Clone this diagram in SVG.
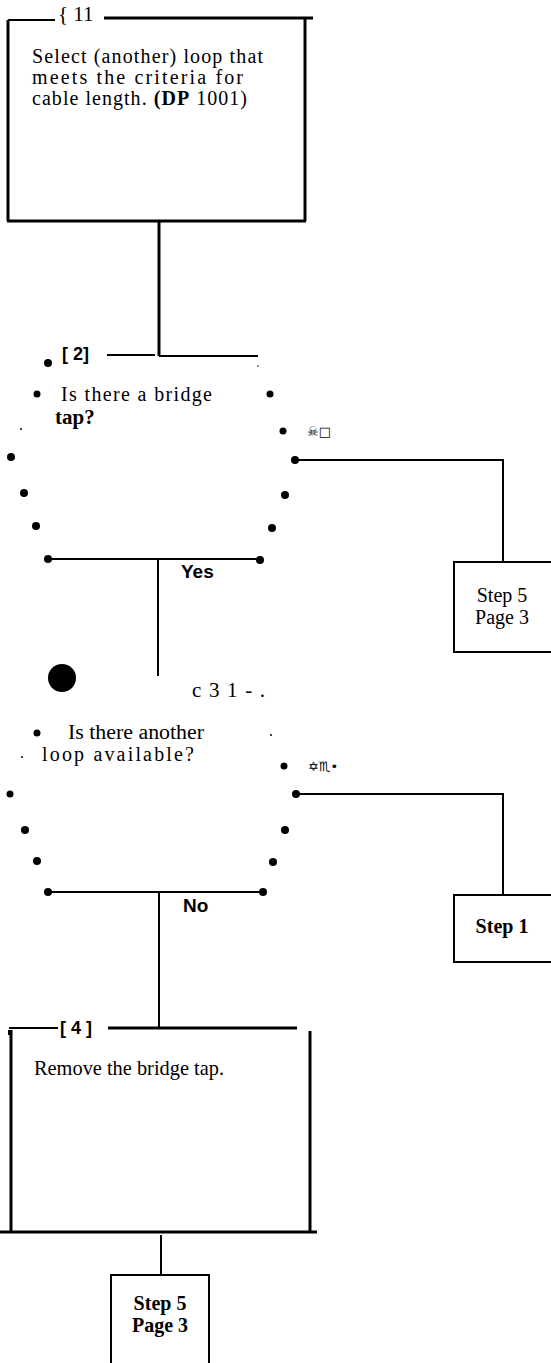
<svg xmlns="http://www.w3.org/2000/svg" width="551" height="1363" viewBox="0 0 551 1363">
<style>
.t{font-family:"Liberation Serif","Times New Roman",serif;font-size:21px;fill:#000}
.m{font-size:20px}
.b{font-weight:bold}
.st{font-family:"Liberation Serif","Times New Roman",serif;font-size:20px;fill:#000;text-anchor:middle}
.s{font-family:"Liberation Sans",Arial,sans-serif;font-size:19px;font-weight:bold;fill:#000}
.lb{font-family:"Liberation Sans",Arial,sans-serif;font-size:18px;font-weight:bold;fill:#000}
.sym{font-family:"DejaVu Sans",sans-serif;font-size:13px;fill:#000}
.box{fill:none;stroke:#000;stroke-width:3}
.thin{fill:none;stroke:#000;stroke-width:2}
.ln{fill:none;stroke:#000;stroke-width:2}
.d{fill:#000}
</style>
<rect width="551" height="1363" fill="#fff"/>
<g id="node1">
<path class="box" d="M104 18 H313 M305 18 V221 M7 221 H306 M8 20 V221"/>
<path class="thin" d="M8 20 H55"/>
<text class="t" x="58" y="21">{ 11</text>
<text class="t m" x="32" y="63" textLength="231" lengthAdjust="spacing">Select (another) loop that</text>
<text class="t m" x="32" y="84" textLength="211" lengthAdjust="spacing">meets the criteria for</text>
<text class="t m" x="32" y="105" textLength="215" lengthAdjust="spacing">cable length. <tspan class="b">(DP</tspan> 1001)</text>
</g>
<g id="node2">
<text class="lb" x="62" y="360">[ 2]</text>
<path class="ln" d="M107 355 H155 M159 356 H258"/>
<circle class="d" cx="48" cy="363" r="4"/>
<circle class="d" cx="37" cy="394" r="3.5"/>
<text class="t m" x="61" y="401" textLength="151" lengthAdjust="spacing">Is there a bridge</text>
<text class="t b" x="55" y="424" font-size="18">tap?</text>
<circle class="d" cx="270" cy="394" r="3.5"/>
<circle class="d" cx="21" cy="429" r="1"/>
<circle class="d" cx="283" cy="431" r="3.5"/>
<text class="sym" x="307" y="436">☠□</text>
<circle class="d" cx="11" cy="457" r="4"/>
<circle class="d" cx="295" cy="460" r="4"/>
<circle class="d" cx="24" cy="493" r="4"/>
<circle class="d" cx="285" cy="495" r="4"/>
<circle class="d" cx="36" cy="526" r="4"/>
<circle class="d" cx="272" cy="528" r="4"/>
<circle class="d" cx="48" cy="559" r="4"/>
<circle class="d" cx="260" cy="560" r="4"/>
<path class="ln" d="M48 559 H260"/>
<circle class="d" cx="258" cy="366" r="0.8"/>
</g>
<g id="node3">
<circle class="d" cx="62" cy="678" r="14"/>
<text class="t" x="192" y="697" textLength="73" lengthAdjust="spacing">c 3 1 - .</text>
<circle class="d" cx="37" cy="733" r="3.5"/>
<text class="t m" x="68" y="739" textLength="136" lengthAdjust="spacingAndGlyphs">Is there another</text>
<circle class="d" cx="271" cy="735" r="1"/>
<circle class="d" cx="22" cy="757" r="1"/>
<text class="t m" x="42" y="761" textLength="152" lengthAdjust="spacing">loop available?</text>
<circle class="d" cx="284" cy="766" r="3.5"/>
<text class="sym" x="308" y="771">✡♏•</text>
<circle class="d" cx="10" cy="794" r="3.5"/>
<circle class="d" cx="296" cy="794" r="4"/>
<circle class="d" cx="25" cy="830" r="4"/>
<circle class="d" cx="285" cy="830" r="4"/>
<circle class="d" cx="37" cy="861" r="4"/>
<circle class="d" cx="273" cy="862" r="4"/>
<circle class="d" cx="48" cy="892" r="4"/>
<circle class="d" cx="263" cy="892" r="4"/>
<path class="ln" d="M48 892 H263"/>
</g>
<g id="node4">
<path class="box" d="M108 1028 H297 M310 1031 V1232 M11 1030 V1232 M0 1232 H317"/>
<path class="thin" d="M9 1030 V1035 M9 1028 H58"/>
<text class="lb" x="60" y="1034">[ 4 ]</text>
<text class="t" x="34" y="1075" textLength="190" lengthAdjust="spacingAndGlyphs">Remove the bridge tap.</text>
</g>
<g id="step5a">
<rect class="thin" x="454" y="562" width="100" height="90"/>
<text class="st" x="502" y="602">Step 5</text>
<text class="st" x="502" y="624">Page 3</text>
</g>
<g id="step1">
<rect class="thin" x="454" y="895" width="100" height="67"/>
<text class="st b" x="502" y="933">Step 1</text>
</g>
<g id="step5b">
<path class="thin" d="M111 1363 V1275 H209 V1363"/>
<text class="st b" x="160" y="1310">Step 5</text>
<text class="st b" x="160" y="1332">Page 3</text>
</g>
<g id="connectors">
<path class="box" d="M159 221 V356"/>
<path class="ln" d="M158 560 V676"/>
<text class="s" x="181" y="578">Yes</text>
<path class="ln" d="M296 460 H503 V562"/>
<path class="ln" d="M296 794 H503 V895"/>
<path class="ln" d="M159 892 V1028"/>
<text class="s" x="183" y="912">No</text>
<path class="ln" d="M161 1235 V1275"/>
</g>
</svg>
